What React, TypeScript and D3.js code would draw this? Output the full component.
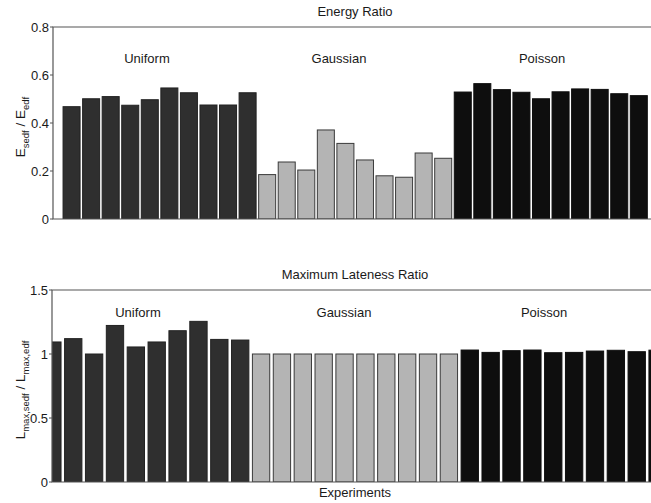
import React from "react";
import * as d3 from "d3";

const groups = ["Uniform", "Gaussian", "Poisson"];
const energyUniform = [0.468, 0.501, 0.51, 0.474, 0.497, 0.546, 0.526, 0.475, 0.475, 0.526];
const energyGaussian = [0.185, 0.2375, 0.204, 0.371, 0.315, 0.246, 0.18, 0.174, 0.275, 0.253];
const energyPoisson = [0.529, 0.564, 0.539, 0.528, 0.501, 0.53, 0.542, 0.54, 0.522, 0.514];
const latenessUniform = [1.094, 1.12, 1.0, 1.223, 1.055, 1.094, 1.182, 1.255, 1.114, 1.109];
const latenessGaussian = [1.0, 1.0, 1.0, 1.0, 1.0, 1.0, 1.0, 1.0, 1.0, 1.0];
const latenessPoisson = [1.031, 1.0125, 1.026, 1.031, 1.01, 1.0125, 1.023, 1.029, 1.018, 1.03];
const energyTicks = [0, 0.2, 0.4, 0.6, 0.8];
const energyTickLabels = ["0", "0.2", "0.4", "0.6", "0.8"];
const latenessTicks = [0, 0.5, 1, 1.5];
const latenessTickLabels = ["0", "0.5", "1", "1.5"];

const FONT = "'Liberation Sans', Arial, sans-serif";
const fills = ["#2f2f2f", "#b4b4b4", "#0e0e0e"];
const strokes = ["#222", "#3a3a3a", "#0e0e0e"];

type PanelProps = {
  id: string;
  series: number[][];
  yMax: number;
  ticks: number[];
  tickLabels: string[];
  top: number;
  bottom: number;
  left: number;
  xRange: [number, number];
  barFrac: number;
  title: string;
  titleY: number;
  labelX: number[];
  labelY: number;
  yLabel: React.ReactNode;
  yLabelY: number;
};

function Panel(p: PanelProps) {
  const y = d3.scaleLinear().domain([0, p.yMax]).range([p.bottom, p.top]);
  const x = d3.scaleLinear().domain([0, 31]).range(p.xRange);
  const step = x(1) - x(0);
  const bw = step * p.barFrac;
  const data = p.series.flatMap((s, g) => s.map((v, i) => ({ g, idx: g * 10 + i + 1, v })));
  return (
    <g>
      <defs>
        <clipPath id={p.id}>
          <rect x={p.left} y={p.top} width={651 - p.left} height={p.bottom - p.top} />
        </clipPath>
      </defs>
      <g clipPath={`url(#${p.id})`}>
        {data.map((d) => (
          <rect
            key={d.idx}
            x={x(d.idx) - bw / 2}
            y={y(d.v)}
            width={bw}
            height={p.bottom - y(d.v)}
            fill={fills[d.g]}
            stroke={strokes[d.g]}
            strokeWidth={1}
          />
        ))}
      </g>
      <path
        d={`M651,${p.top}H${p.left}V${p.bottom}H651`}
        fill="none"
        stroke="#555"
        strokeWidth={1.2}
      />
      {p.ticks.map((t, i) => (
        <g key={t}>
          <line x1={p.left - 3} x2={p.left} y1={y(t)} y2={y(t)} stroke="#555" strokeWidth={1} />
          <text
            x={p.left - 4}
            y={y(t)}
            dy="0.35em"
            textAnchor="end"
            fontFamily={FONT}
            fontSize={13}
            fill="#1a1a1a"
          >
            {p.tickLabels[i]}
          </text>
        </g>
      ))}
      <text x={355} y={p.titleY} textAnchor="middle" fontFamily={FONT} fontSize={13} fill="#1a1a1a">
        {p.title}
      </text>
      {groups.map((gname, g) => (
        <text
          key={gname}
          x={p.labelX[g]}
          y={p.labelY}
          dy="0.35em"
          textAnchor="middle"
          fontFamily={FONT}
          fontSize={13}
          fill="#1a1a1a"
        >
          {gname}
        </text>
      ))}
      <text
        transform={`translate(20,${p.yLabelY}) rotate(-90)`}
        textAnchor="middle"
        dy="0.35em"
        fontFamily={FONT}
        fontSize={13.5}
        fill="#1a1a1a"
      >
        {p.yLabel}
      </text>
    </g>
  );
}

export default function App() {
  return (
    <svg
      width={651}
      height={503}
      style={{ position: "absolute", left: 0, top: 0, background: "#fff" }}
    >
      <rect width={651} height={503} fill="#fff" />
      <Panel
        id="clipTop"
        series={[energyUniform, energyGaussian, energyPoisson]}
        yMax={0.8}
        ticks={energyTicks}
        tickLabels={energyTickLabels}
        top={27}
        bottom={219}
        left={53}
        xRange={[52, 52 + 31 * 19.56]}
        barFrac={0.87}
        title="Energy Ratio"
        titleY={16}
        labelX={[147, 339, 542]}
        labelY={58}
        yLabel={
          <>
            <tspan>E</tspan>
            <tspan fontSize={9.5} dy="4">sedf</tspan>
            <tspan dy="-4"> / E</tspan>
            <tspan fontSize={9.5} dy="4">edf</tspan>
          </>
        }
        yLabelY={127}
      />
      <Panel
        id="clipBottom"
        series={[latenessUniform, latenessGaussian, latenessPoisson]}
        yMax={1.5}
        ticks={latenessTicks}
        tickLabels={latenessTickLabels}
        top={290}
        bottom={482}
        left={52}
        xRange={[31.5, 31.5 + 31 * 20.87]}
        barFrac={0.83}
        title="Maximum Lateness Ratio"
        titleY={279}
        labelX={[138, 344, 544]}
        labelY={312}
        yLabel={
          <>
            <tspan>L</tspan>
            <tspan fontSize={9.5} dy="4">max,sedf</tspan>
            <tspan dy="-4"> / L</tspan>
            <tspan fontSize={9.5} dy="4">max,edf</tspan>
          </>
        }
        yLabelY={390}
      />
      <text x={355} y={497} textAnchor="middle" fontFamily={FONT} fontSize={13} fill="#1a1a1a">
        Experiments
      </text>
    </svg>
  );
}
